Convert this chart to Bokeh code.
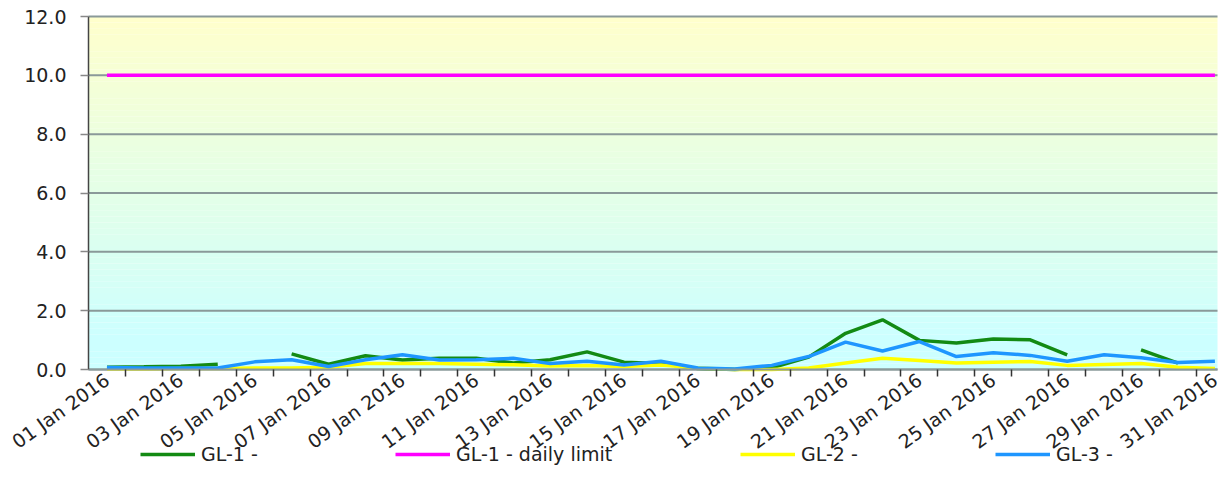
import numpy as np
from bokeh.plotting import figure
from bokeh.models import (Range1d, FixedTicker, Legend, LegendItem, BoxAnnotation,
                          ColumnDataSource, LinearAxis)
from bokeh.embed import file_html
from bokeh.resources import INLINE

# ---------------- data ----------------
days = [1, 2, 3, 4, 5, 6, 7, 8, 9, 10, 11, 12, 13, 14, 15, 16,
        17, 18, 19, 20, 21, 22, 23, 24, 25, 26, 27, 28, 29, 30, 31]
label_days = [1, 3, 5, 7, 9, 11, 13, 15, 17, 19, 21, 23, 25, 27, 29, 31]
tick_labels = ["01 Jan 2016", "03 Jan 2016", "05 Jan 2016", "07 Jan 2016",
               "09 Jan 2016", "11 Jan 2016", "13 Jan 2016", "15 Jan 2016",
               "17 Jan 2016", "19 Jan 2016", "21 Jan 2016", "23 Jan 2016",
               "25 Jan 2016", "27 Jan 2016", "29 Jan 2016", "31 Jan 2016"]
y_ticks = [0, 2, 4, 6, 8, 10, 12]
y_tick_labels = ["0.0", "2.0", "4.0", "6.0", "8.0", "10.0", "12.0"]

gl1 = [0.08, 0.09, 0.11, 0.18, None, 0.53, 0.18, 0.47, 0.32, 0.38,
       0.38, 0.22, 0.33, 0.60, 0.25, 0.20, 0.03, 0.00, 0.06, 0.42,
       1.23, 1.69, 0.99, 0.90, 1.04, 1.01, 0.50, None, 0.67, 0.22, None]
gl1_limit = [10.0, 10.0, 10.0, 10.0, 10.0, 10.0, 10.0, 10.0, 10.0, 10.0,
             10.0, 10.0, 10.0, 10.0, 10.0, 10.0, 10.0, 10.0, 10.0, 10.0,
             10.0, 10.0, 10.0, 10.0, 10.0, 10.0, 10.0, 10.0, 10.0, 10.0, 10.0]
gl2 = [0.02, 0.02, 0.03, 0.03, 0.05, 0.05, 0.08, 0.20, 0.20, 0.20,
       0.18, 0.16, 0.12, 0.14, 0.10, 0.15, 0.05, 0.00, 0.00, 0.05,
       0.22, 0.38, 0.31, 0.22, 0.25, 0.27, 0.14, 0.17, 0.20, 0.08, 0.03]
gl3 = [0.07, 0.05, 0.05, 0.05, 0.26, 0.33, 0.10, 0.33, 0.50, 0.32,
       0.33, 0.38, 0.20, 0.28, 0.15, 0.28, 0.05, 0.02, 0.14, 0.44,
       0.93, 0.63, 0.95, 0.44, 0.57, 0.48, 0.28, 0.50, 0.40, 0.24, 0.28]

series_names = ["GL-1 -", "GL-1 - daily limit", "GL-2 -", "GL-3 -"]
series_colors = ["#138A13", "#FF00FF", "#FFFF00", "#1E96FF"]

FONT = "DejaVu Sans"
TEXT_COLOR = "#222222"
GRID_COLOR = "#8a9999"

# ---------------- layout geometry ----------------
# The frame fills the whole figure; the plotting area (0..12, day 0.5..31.07)
# is placed inside it so that axis labels and legend are not clipped.
FIG_W, FIG_H = 1225, 487
AREA_LEFT, AREA_RIGHT, AREA_TOP, AREA_BOTTOM = 88, 1217, 16, 369
X_LO, X_HI = 0.5, 31.07
Y_LO, Y_HI = 0.0, 12.0
xpx = (AREA_RIGHT - AREA_LEFT) / (X_HI - X_LO)
ypx = (AREA_BOTTOM - AREA_TOP) / (Y_HI - Y_LO)
x_range = Range1d(X_LO - AREA_LEFT / xpx, X_HI + (FIG_W - AREA_RIGHT) / xpx)
y_range = Range1d(Y_LO - (FIG_H - AREA_BOTTOM) / ypx, Y_HI + AREA_TOP / ypx)

src = ColumnDataSource(dict(
    day=days,
    gl1=np.array(gl1, dtype=float),
    lim=np.array(gl1_limit, dtype=float),
    gl2=np.array(gl2, dtype=float),
    gl3=np.array(gl3, dtype=float),
))

p = figure(width=FIG_W, height=FIG_H, output_backend="svg", toolbar_location=None,
           x_range=x_range, y_range=y_range,
           x_axis_location=None, y_axis_location=None,
           min_border_left=0, min_border_right=0,
           min_border_top=0, min_border_bottom=0)
p.outline_line_color = None
p.background_fill_color = "white"
p.border_fill_color = "white"
for g in p.xgrid:
    g.visible = False
for g in p.ygrid:
    g.visible = False

# gradient background (yellow at top -> cyan at bottom) over the plotting area
top_c = (255, 255, 204)
bot_c = (204, 255, 255)
n = 60
for i in range(n):
    y0 = Y_HI * i / n
    y1 = Y_HI * (i + 1) / n
    ym = (y0 + y1) / 2
    t = min(max((ym - 1.0) / 11.0, 0.0), 1.0)
    c = tuple(int(round(b + (a - b) * t)) for a, b in zip(top_c, bot_c))
    p.add_layout(BoxAnnotation(bottom=y0, top=y1, left=X_LO, right=X_HI,
                               fill_color="#%02x%02x%02x" % c,
                               fill_alpha=1.0, line_color=None, level="image"))

# horizontal grid lines, limited to the plotting area (2 px thick)
half = 1.0 / ypx
for t in y_ticks:
    p.add_layout(BoxAnnotation(bottom=t - half, top=t + half, left=X_LO, right=X_HI,
                               fill_color=GRID_COLOR, fill_alpha=1.0,
                               line_color=None, level="underlay"))

# x axis drawn at value 0
xaxis = LinearAxis(fixed_location=0, bounds=(X_LO, X_HI))
xaxis.ticker = FixedTicker(ticks=label_days,
                           minor_ticks=[d + 0.5 for d in days[:-1]])
xaxis.major_label_overrides = {d: s for d, s in zip(label_days, tick_labels)}
xaxis.major_label_orientation = 0.62
xaxis.major_tick_line_color = None
xaxis.major_tick_out = 0
xaxis.major_tick_in = 0
xaxis.minor_tick_out = 7
xaxis.minor_tick_in = 0
xaxis.minor_tick_line_color = "#333333"
xaxis.minor_tick_line_width = 1.5
xaxis.axis_line_color = GRID_COLOR
xaxis.axis_line_width = 2
xaxis.major_label_standoff = 1
p.add_layout(xaxis, "below")

# y axis drawn at the left edge of the plotting area
yaxis = LinearAxis(fixed_location=X_LO, bounds=(Y_LO, Y_HI))
yaxis.ticker = FixedTicker(ticks=y_ticks)
yaxis.major_label_overrides = {t: s for t, s in zip(y_ticks, y_tick_labels)}
yaxis.major_tick_out = 8
yaxis.major_tick_in = 0
yaxis.major_tick_line_color = "#888888"
yaxis.major_tick_line_width = 1.5
yaxis.minor_tick_line_color = None
yaxis.axis_line_color = "#444444"
yaxis.axis_line_width = 1.5
yaxis.major_label_standoff = 14
p.add_layout(yaxis, "left")

for ax in (xaxis, yaxis):
    ax.major_label_text_font = FONT
    ax.major_label_text_font_size = "19px"
    ax.major_label_text_color = TEXT_COLOR

# lines
r1 = p.line("day", "gl1", source=src, line_color=series_colors[0], line_width=3.5)
r_lim = p.line("day", "lim", source=src, line_color=series_colors[1], line_width=3.5)
r2 = p.line("day", "gl2", source=src, line_color=series_colors[2], line_width=3.5)
r3 = p.line("day", "gl3", source=src, line_color=series_colors[3], line_width=3.5)

# legend entries along the bottom
legend_x = [140, 395, 740, 995]
for name, r, lx in zip(series_names, [r1, r_lim, r2, r3], legend_x):
    lg = Legend(items=[LegendItem(label=name, renderers=[r])],
                location=(lx, 22), orientation="horizontal",
                padding=0, margin=0, glyph_width=55, glyph_height=20,
                label_height=20, label_standoff=6,
                border_line_color=None, background_fill_alpha=0,
                label_text_font=FONT, label_text_font_size="19px",
                label_text_color=TEXT_COLOR)
    p.add_layout(lg, "center")

open("out.html", "w").write(file_html(p, INLINE))
